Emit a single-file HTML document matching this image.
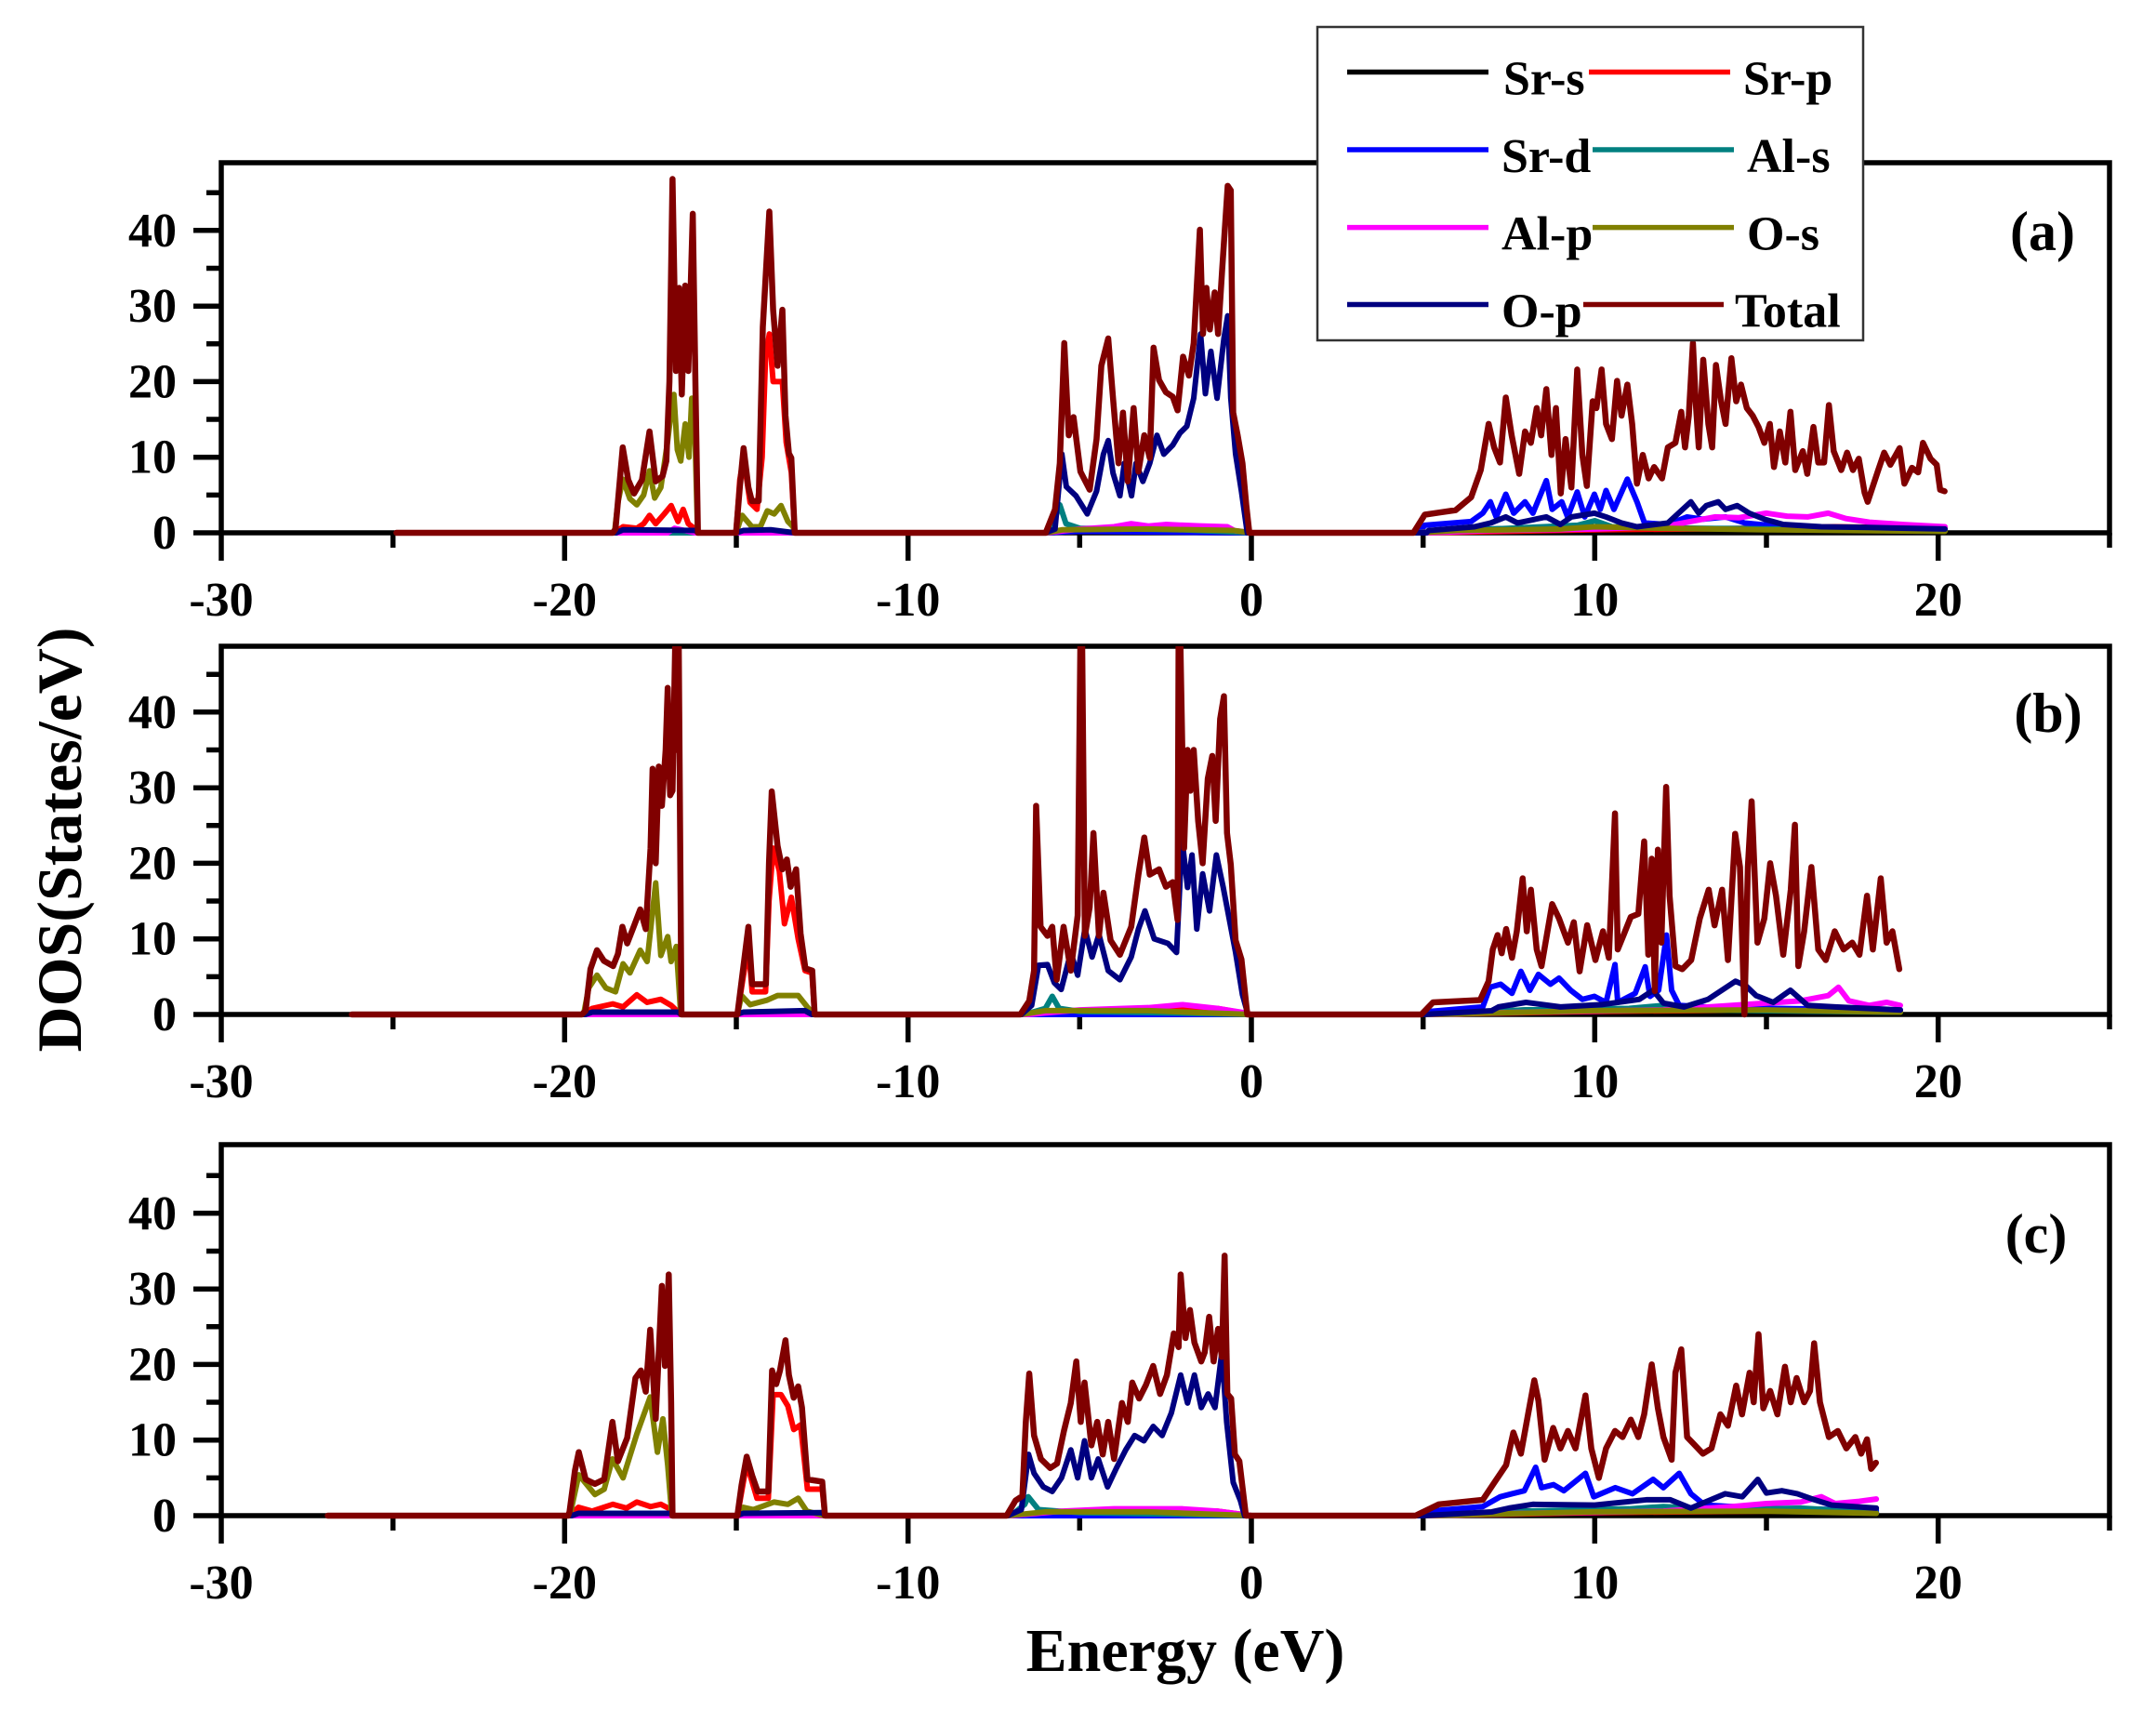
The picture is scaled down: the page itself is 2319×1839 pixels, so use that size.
<!DOCTYPE html>
<html><head><meta charset="utf-8"><style>
html,body{margin:0;padding:0;background:#fff;}
svg{display:block;}
text{font-family:"Liberation Serif","Times New Roman",serif;font-weight:bold;fill:#000;}
.ln{fill:none;vector-effect:non-scaling-stroke;stroke-linejoin:round;stroke-linecap:round;stroke-width:6;}
.tot{stroke:#800000;stroke-width:6.5;}
.k{stroke:#000;}.r{stroke:#ff0000;}.b{stroke:#0000ff;}.t{stroke:#008080;}.m{stroke:#ff00ff;}.o{stroke:#808000;}.n{stroke:#000080;}
.ax{stroke:#000;stroke-width:5.5;fill:none;}
</style></head><body>
<svg width="2319" height="1839" viewBox="0 0 2319 1839" xmlns="http://www.w3.org/2000/svg">
<defs>
<clipPath id="ca"><rect x="238" y="175" width="2031" height="402"/></clipPath>
<clipPath id="cb"><rect x="238" y="695" width="2031" height="400"/></clipPath>
<clipPath id="cc"><rect x="238" y="1231" width="2031" height="403"/></clipPath>
</defs>

<!-- ============ PANEL A ============ -->
<g class="ax">
<rect x="238" y="175" width="2031" height="398"/>
<path d="M208 573H238 M222 532.4H238 M208 491.7H238 M222 451H238 M208 410.4H238 M222 369.7H238 M208 329.2H238 M222 288.5H238 M208 247.8H238 M222 207.2H238"/>
<path d="M238 573V603 M422.7 573V589 M607.3 573V603 M792 573V589 M976.7 573V603 M1161.3 573V589 M1346 573V603 M1530.7 573V589 M1715.3 573V603 M1900 573V589 M2084.7 573V603 M2269 573V589"/>
</g>
<g font-size="52" text-anchor="end">
<text x="190" y="590">0</text><text x="190" y="508.7">10</text><text x="190" y="427.4">20</text><text x="190" y="346.2">30</text><text x="190" y="264.8">40</text>
</g>
<g font-size="52" text-anchor="middle">
<text x="238" y="662">-30</text><text x="607.3" y="662">-20</text><text x="976.7" y="662">-10</text><text x="1346" y="662">0</text><text x="1715.3" y="662">10</text><text x="2084.7" y="662">20</text>
</g>
<text x="2197" y="269" font-size="60" text-anchor="middle">(a)</text>

<g clip-path="url(#ca)"><g transform="translate(1346,573) scale(36.93,-8.13)">
<polyline class="ln k" points="-24.9,0 -18.5,0 -18.3,0.3 -16.2,0.2 -16.1,0 -6,0 -5,0.2 0,0 5,0 7,0.5 10,0.8 12,0.5 15,0.6 20.2,0.4"/>
<polyline class="ln r" points="-24.9,0 -18.55,0 -18.3,0.8 -17.9,0.6 -17.7,1.2 -17.53,2.3 -17.35,1.2 -17.1,2.5 -16.9,3.6 -16.7,1.5 -16.55,3.1 -16.4,1.2 -16.2,0.5 -16.12,0 -15.01,0 -14.9,7 -14.79,9.9 -14.6,4 -14.4,3.1 -14.25,10 -14.15,23.3 -14.04,26.3 -13.93,20 -13.8,20 -13.66,20 -13.55,12 -13.4,8 -13.3,0 -6,0 -4,0.4 -1,0.4 0,0 5,0 10,0.4 15,0.6 17,0.8 20.2,0.6"/>
<polyline class="ln b" points="-24.9,0 -6,0 -5,0.2 0,0 4.9,0 5.05,1 6.4,1.5 6.74,2.6 6.96,4.1 7.13,2.1 7.41,5.1 7.64,2.6 7.97,4.1 8.2,2.6 8.59,6.9 8.76,3.1 9.04,4.1 9.21,2.1 9.49,5.4 9.71,2.1 9.99,5.1 10.16,3.1 10.33,5.6 10.56,3.1 10.95,7.1 11.23,4.1 11.45,1.3 12.13,1.1 12.69,2.1 13.14,1.8 13.81,2.1 14.37,1.3 15.49,0.8 17,0.6 20.2,0.4"/>
<polyline class="ln t" points="-24.9,0 -6,0 -5.75,1.5 -5.58,3.7 -5.4,1.2 -5,0.6 -2,0.4 0,0 5,0 7,0.5 9.5,1.0 10,1.6 10.5,0.8 13,0.6 20.2,0.3"/>
<polyline class="ln m" points="-24.9,0 -17,0 -16.8,0.6 -16.2,0 -6,0 -5,0.5 -4,0.8 -3.5,1.2 -3,0.9 -2.5,1.1 -1.5,0.9 -0.7,0.8 -0.5,0.3 0,0 5,0 7,0.3 10,0.5 12,0.8 12.8,1.5 13.5,2.1 14.2,2 15,2.6 15.6,2.2 16.2,2.1 16.8,2.6 17.3,1.9 18,1.4 19,1.1 20.2,0.8"/>
<polyline class="ln o" points="-24.9,0 -18.55,0 -18.45,4 -18.31,7.1 -18.1,4.5 -17.9,3.7 -17.7,5 -17.53,8.2 -17.38,4.6 -17.2,6 -17.0,12.2 -16.9,16 -16.82,18.3 -16.72,11 -16.62,9.5 -16.49,14.4 -16.38,10 -16.3,17.8 -16.2,12 -16.13,0 -15.0,0 -14.9,1.5 -14.83,2.3 -14.55,0.8 -14.3,0.8 -14.1,2.9 -13.9,2.5 -13.7,3.6 -13.5,1.5 -13.35,0.8 -13.3,0 -6,0 -5.5,0.4 -3,0.5 -0.5,0.3 0,0 4.8,0 6,0.3 9,0.5 10,0.8 12,0.6 15,0.4 20.2,0.2"/>
<polyline class="ln n" points="-24.9,0 -18.5,0 -18.3,0.4 -16.2,0.3 -16.1,0 -15,0 -14.8,0.3 -14,0.4 -13.3,0 -6,0 -5.72,0.5 -5.52,10.4 -5.39,6.1 -5.11,4.9 -4.78,2.5 -4.51,5.5 -4.31,10.4 -4.17,12.2 -4.03,7.9 -3.83,4.9 -3.70,9.2 -3.49,4.9 -3.36,9.2 -3.16,6.8 -2.96,9.2 -2.75,12.9 -2.55,10.4 -2.29,11.6 -2.08,13.2 -1.88,14.1 -1.68,17.8 -1.48,26.3 -1.34,18.4 -1.18,24 -1,17.8 -0.8,25.7 -0.69,28.7 -0.6,17.8 -0.46,10.4 -0.29,5.5 -0.12,0 5.1,0 5.16,0.3 6.5,0.8 6.97,1.3 7.41,2.1 7.75,1.3 8.59,2.1 9.0,1.1 9.32,2.1 9.99,2.6 10.33,2.1 10.78,1.3 11.23,0.8 12.13,1.3 12.8,4.1 13.03,2.6 13.25,3.6 13.6,4.1 13.81,3.1 14.15,3.6 14.5,2.6 14.94,1.8 15.49,1.1 16.6,0.8 18,0.7 20.2,0.5"/>
<polyline class="ln tot" points="-24.9,0 -18.6,0 -18.52,0.5 -18.31,11.3 -18.15,7 -17.98,5.2 -17.75,7 -17.53,13.4 -17.35,6.8 -17.15,7.5 -17.04,9.5 -16.95,20 -16.86,46.8 -16.76,21.4 -16.67,32.4 -16.59,18.3 -16.49,32.7 -16.40,21.4 -16.27,42.2 -16.19,19 -16.12,0 -15.01,0 -14.9,6 -14.79,11.2 -14.65,6 -14.55,4.2 -14.35,4.2 -14.23,27.2 -14.04,42.5 -13.93,29.5 -13.80,22.1 -13.66,29.5 -13.57,15.5 -13.47,10.5 -13.40,9.9 -13.30,0 -5.99,0 -5.72,3.1 -5.58,9.2 -5.45,25.1 -5.32,12.9 -5.18,15.3 -4.98,8.1 -4.71,5.7 -4.51,12.4 -4.37,22.1 -4.17,25.7 -4.03,17.8 -3.87,9.2 -3.74,15.9 -3.60,6.8 -3.43,16.5 -3.29,8.1 -3.12,12.9 -2.96,9.9 -2.85,24.5 -2.69,20.2 -2.49,18.6 -2.29,18 -2.15,16.2 -1.99,23.3 -1.82,20.8 -1.68,25.1 -1.50,40.1 -1.41,26.3 -1.31,32.4 -1.21,26.9 -1.07,31.8 -0.97,26.3 -0.85,34.9 -0.69,45.9 -0.60,45.3 -0.53,15.9 -0.40,12.9 -0.26,9.2 -0.15,3.7 -0.06,0 4.72,0 5.05,2.4 5.5,2.7 5.95,3.0 6.4,4.7 6.68,8.3 6.91,14.4 7.07,11.3 7.24,9.3 7.41,17.9 7.58,12.9 7.80,7.8 7.97,13.4 8.14,11.9 8.31,16.5 8.44,12.9 8.59,19 8.74,10.3 8.87,16.5 9.01,5.2 9.15,12.4 9.32,6 9.49,21.6 9.64,10.3 9.77,6.2 9.94,17.4 10.05,16.5 10.2,21.6 10.33,14.4 10.5,12.4 10.65,20.1 10.78,15.5 10.95,19.6 11.09,14.4 11.23,6.5 11.4,10.3 11.57,7.2 11.73,8.7 11.96,7.2 12.13,11.3 12.35,11.9 12.52,16 12.63,11.3 12.74,15.5 12.86,25.1 12.94,17.4 13.03,11.3 13.16,22.9 13.31,14.4 13.42,11.3 13.53,22.2 13.68,17.4 13.81,14.4 13.98,23.1 14.12,17.4 14.26,19.6 14.43,16.5 14.6,15.5 14.77,14 14.94,11.9 15.1,14.4 15.22,8.7 15.39,13.4 15.55,9.3 15.7,16 15.84,8.3 16.06,10.8 16.19,7.8 16.37,14 16.51,9.3 16.68,9.3 16.82,16.9 16.96,10.8 17.18,8.3 17.35,10.6 17.52,8.3 17.69,9.8 17.86,5.3 17.95,4.1 18.25,8.2 18.43,10.6 18.61,9 18.88,11.2 19.02,6.5 19.24,8.6 19.42,8 19.56,11.9 19.78,9.8 19.96,9 20.06,5.7 20.19,5.5"/>
</g></g>

<!-- ============ PANEL B ============ -->
<g class="ax">
<rect x="238" y="695" width="2031" height="396"/>
<path d="M208 1091H238 M222 1050.4H238 M208 1009.7H238 M222 969H238 M208 928.4H238 M222 887.7H238 M208 847.2H238 M222 806.5H238 M208 765.8H238 M222 725.2H238"/>
<path d="M238 1091V1121 M422.7 1091V1107 M607.3 1091V1121 M792 1091V1107 M976.7 1091V1121 M1161.3 1091V1107 M1346 1091V1121 M1530.7 1091V1107 M1715.3 1091V1121 M1900 1091V1107 M2084.7 1091V1121 M2269 1091V1107"/>
</g>
<g font-size="52" text-anchor="end">
<text x="190" y="1108">0</text><text x="190" y="1026.7">10</text><text x="190" y="945.4">20</text><text x="190" y="864.2">30</text><text x="190" y="782.8">40</text>
</g>
<g font-size="52" text-anchor="middle">
<text x="238" y="1180">-30</text><text x="607.3" y="1180">-20</text><text x="976.7" y="1180">-10</text><text x="1346" y="1180">0</text><text x="1715.3" y="1180">10</text><text x="2084.7" y="1180">20</text>
</g>
<text x="2203" y="787" font-size="60" text-anchor="middle">(b)</text>

<g clip-path="url(#cb)"><g transform="translate(1346,1091) scale(36.93,-8.13)">
<polyline class="ln k" points="-26.2,0 -19.4,0 -19,0.2 -16.6,0 -6.7,0 -5,0.2 0,0 5,0 8,0.6 12,0.6 15,0.8 18.9,0.4"/>
<polyline class="ln r" points="-26.2,0 -19.45,0 -19.2,0.8 -18.6,1.4 -18.3,1.0 -17.9,2.6 -17.6,1.6 -17.2,2.0 -16.9,1.2 -16.62,0 -14.97,0 -14.8,5 -14.65,9 -14.54,3 -14.15,3 -14.05,15 -13.93,22 -13.75,19 -13.6,12 -13.4,15.5 -13.2,10 -13.0,5.8 -12.8,5.5 -12.72,0 -6.7,0 -3,0.4 -1,0.8 0,0 5,0 10,0.4 15,0.6 18.9,0.5"/>
<polyline class="ln b" points="-26.2,0 0,0 5.0,0 5.2,0.4 6.74,1.0 6.95,3.6 7.26,4.0 7.59,2.8 7.85,5.7 8.11,3.2 8.36,5.3 8.71,4.0 8.96,4.8 9.3,3.2 9.64,2.0 9.99,2.4 10.33,1.6 10.59,6.6 10.67,1.6 11.18,2.8 11.47,6.3 11.61,2.4 11.86,3.2 12.09,10.5 12.24,3.2 12.46,1.2 13.23,1.0 15,0.8 18.9,0.6"/>
<polyline class="ln t" points="-26.2,0 -6.6,0 -6,0.8 -5.8,2.4 -5.6,0.8 -5,0.4 0,0 5,0 8,0.6 11,0.8 12,1.2 13,0.6 18.9,0.3"/>
<polyline class="ln m" points="-26.2,0 -6.5,0 -5,0.6 -3,0.9 -2,1.3 -1,0.8 -0.3,0.3 0,0 5,0 8,0.3 12,0.6 14,1.2 15,1.5 16,1.8 16.8,2.5 17.1,3.6 17.4,1.8 18,1.2 18.5,1.6 18.9,1.2"/>
<polyline class="ln o" points="-26.2,0 -19.45,0 -19.3,3.5 -19.06,5.2 -18.8,3.5 -18.52,3 -18.3,6.7 -18.1,5.5 -17.8,8.5 -17.6,7 -17.35,17.4 -17.2,7.8 -17.0,10.3 -16.9,7 -16.75,9 -16.62,0 -14.97,0 -14.85,2.5 -14.6,1.3 -14.1,1.9 -13.8,2.5 -13.2,2.5 -12.9,0.8 -12.75,0 -6.7,0 -6,0.5 -3,0.5 0,0 5,0 10,0.5 15,0.6 18.9,0.3"/>
<polyline class="ln n" points="-26.2,0 -19.4,0 -19.2,0.3 -16.7,0.3 -16.6,0 -15,0 -14.8,0.3 -13,0.5 -12.8,0 -6.7,0 -6.4,1.2 -6.2,6.5 -5.94,6.6 -5.74,4.2 -5.54,3.3 -5.26,8.2 -5.06,5.2 -4.85,11.3 -4.64,7.6 -4.44,10.6 -4.17,5.8 -3.83,4.6 -3.5,7.6 -3.29,11.3 -3.1,13.7 -2.83,10 -2.43,9.4 -2.18,8.2 -2.02,23.2 -1.86,16.8 -1.73,21.1 -1.59,11.3 -1.42,18.6 -1.22,13.7 -1.02,21.1 -0.82,16.8 -0.69,13.7 -0.46,8.2 -0.26,2.6 -0.1,0 5,0 7,0.5 7.2,1.0 8.0,1.6 9.0,1.0 10.2,1.3 11.3,2.0 11.7,3.2 12.0,1.5 12.6,1.0 13.3,2.0 14.1,4.4 14.4,3.8 14.7,2.5 15.2,1.6 15.7,3.2 16.2,1.2 17.0,1.0 18.9,0.6"/>
<polyline class="ln tot" points="-26.2,0 -19.5,0 -19.39,0.5 -19.25,6 -19.06,8.5 -18.86,7.1 -18.59,6.4 -18.45,8 -18.32,11.6 -18.18,9.4 -18.0,11.5 -17.8,13.9 -17.64,11.3 -17.5,22 -17.44,32.5 -17.35,20 -17.26,32.8 -17.17,27.6 -17.06,35 -17.0,43.2 -16.93,29 -16.86,29.6 -16.78,49.5 -16.73,35 -16.68,49.5 -16.6,0 -14.97,0 -14.81,5.8 -14.65,11.6 -14.54,4 -14.14,4 -14.05,20 -13.97,29.5 -13.80,22.3 -13.66,19.2 -13.53,20.5 -13.42,16.9 -13.26,19.2 -13.13,10.7 -12.99,6.1 -12.79,5.8 -12.72,0 -6.73,0 -6.47,1.8 -6.33,5.8 -6.27,27.6 -6.14,11.6 -5.94,10.4 -5.80,11.6 -5.67,4.6 -5.47,11.6 -5.26,5.8 -5.06,13.1 -4.98,49.5 -4.93,49.5 -4.85,10.4 -4.71,14.2 -4.60,24 -4.44,10.4 -4.31,16.1 -4.10,9.8 -3.83,7.9 -3.5,11.6 -3.29,18.5 -3.12,23.4 -2.96,18.5 -2.69,19.2 -2.49,16.9 -2.29,17.5 -2.15,12.5 -2.12,49.5 -2.07,49.5 -1.96,22 -1.86,35 -1.78,29.6 -1.68,35 -1.55,25.6 -1.42,20 -1.27,31.2 -1.14,34.2 -1.04,25.6 -0.91,39.1 -0.80,42.1 -0.71,24 -0.60,19.8 -0.46,9.8 -0.29,7.3 -0.12,0 4.95,0 5.29,1.6 6.66,1.9 6.91,4.4 7.03,8.6 7.17,10.5 7.29,8.1 7.42,11.3 7.59,7.5 7.73,11 7.9,18 8.02,11 8.14,16.5 8.31,8.6 8.45,6.4 8.76,14.6 8.96,12.7 9.22,9.5 9.39,12.2 9.56,5.7 9.78,11.8 10.02,7.2 10.24,11 10.41,7.5 10.59,26.6 10.67,8.6 10.84,10.5 11.05,12.9 11.27,13.3 11.44,22.9 11.56,7.9 11.66,20.6 11.75,3.1 11.84,21.8 11.94,9.5 12.08,30.1 12.18,15.7 12.35,6.4 12.55,6 12.81,7.2 13.06,12.7 13.32,16.5 13.49,11.8 13.71,16.5 13.88,7.2 14.09,23.9 14.23,19.5 14.36,0 14.46,19.5 14.57,28.2 14.74,9.5 14.94,12.7 15.11,20 15.28,15.7 15.49,7.9 15.71,16.5 15.83,25.1 15.93,6.4 16.1,11 16.31,19.5 16.51,8.6 16.73,7.2 16.99,11 17.25,8.6 17.5,9.5 17.71,7.9 17.93,15.7 18.1,8.6 18.33,18 18.5,9.5 18.67,11 18.87,6"/>
</g></g>

<!-- ============ PANEL C ============ -->
<g class="ax">
<rect x="238" y="1231" width="2031" height="399"/>
<path d="M208 1630H238 M222 1589.4H238 M208 1548.7H238 M222 1508H238 M208 1467.4H238 M222 1426.7H238 M208 1386.2H238 M222 1345.5H238 M208 1304.8H238 M222 1264.2H238"/>
<path d="M238 1630V1660 M422.7 1630V1646 M607.3 1630V1660 M792 1630V1646 M976.7 1630V1660 M1161.3 1630V1646 M1346 1630V1660 M1530.7 1630V1646 M1715.3 1630V1660 M1900 1630V1646 M2084.7 1630V1660 M2269 1630V1646"/>
</g>
<g font-size="52" text-anchor="end">
<text x="190" y="1647">0</text><text x="190" y="1565.7">10</text><text x="190" y="1484.4">20</text><text x="190" y="1403.2">30</text><text x="190" y="1321.8">40</text>
</g>
<g font-size="52" text-anchor="middle">
<text x="238" y="1719">-30</text><text x="607.3" y="1719">-20</text><text x="976.7" y="1719">-10</text><text x="1346" y="1719">0</text><text x="1715.3" y="1719">10</text><text x="2084.7" y="1719">20</text>
</g>
<text x="2190" y="1347" font-size="60" text-anchor="middle">(c)</text>

<g clip-path="url(#cc)"><g transform="translate(1346,1630) scale(36.93,-8.13)">
<polyline class="ln k" points="-26.9,0 -19.8,0 -19.5,0.2 -16.9,0 -7,0 -5,0.2 0,0 5,0 8,0.6 12,0.6 15,0.8 18.2,0.4"/>
<polyline class="ln r" points="-26.9,0 -19.85,0 -19.6,1.1 -19.2,0.6 -18.6,1.5 -18.2,1.0 -17.9,1.8 -17.5,1.2 -17.2,1.5 -16.9,0.8 -16.86,0 -14.97,0 -14.7,6.9 -14.4,2.3 -14.07,2.3 -13.93,16 -13.7,16 -13.5,14.5 -13.33,11.4 -13.13,12 -12.93,3.5 -12.5,3.5 -12.42,0 -7.1,0 -3,0.4 -1,0.6 0,0 5,0 10,0.4 15,0.6 18.2,0.5"/>
<polyline class="ln b" points="-26.9,0 0,0 4.9,0 5.2,0.6 6.74,1.2 7.25,2.5 7.59,2.9 7.95,3.3 8.28,6.4 8.45,3.7 8.8,4.1 9.1,3.3 9.73,5.6 9.97,2.5 10.6,3.7 11.1,2.9 11.7,4.8 12.0,3.7 12.46,5.6 12.8,2.9 13.2,1.4 14.8,1.0 18.2,0.7"/>
<polyline class="ln t" points="-26.9,0 -7,0 -6.6,1.5 -6.5,2.5 -6.2,0.8 -5,0.4 0,0 5,0 8,0.6 11,0.9 12,1.2 14,0.8 16,1.0 18.2,0.4"/>
<polyline class="ln m" points="-26.9,0 -7,0 -5.5,0.6 -4,0.9 -2,0.9 -1,0.6 0,0 5,0 8,0.3 12,0.6 14,1.2 15,1.6 16,1.8 16.6,2.5 17,1.6 17.7,1.9 18.2,2.2"/>
<polyline class="ln o" points="-26.9,0 -19.85,0 -19.59,5.4 -19.12,2.8 -18.85,3.5 -18.61,7.5 -18.3,5 -17.9,10.8 -17.51,15.7 -17.3,8.4 -17.14,12.8 -17.0,6.7 -16.88,0 -14.97,0 -14.8,1.1 -14.5,0.8 -13.9,1.8 -13.5,1.5 -13.2,2.3 -12.95,0.6 -12.45,0 -7.1,0 -6,0.5 -3,0.5 0,0 5,0 10,0.5 15,0.6 18.2,0.3"/>
<polyline class="ln n" points="-26.9,0 -19.8,0 -19.6,0.3 -16.9,0.3 -16.86,0 -15,0 -14.8,0.3 -12.5,0.4 -12.42,0 -7.1,0 -6.7,0.8 -6.49,8.1 -6.33,5.6 -6.06,3.8 -5.8,3.2 -5.53,5 -5.26,8.7 -5.06,5 -4.86,9.9 -4.66,5 -4.46,7.5 -4.19,3.8 -3.93,6.3 -3.66,8.7 -3.4,10.6 -3.13,9.9 -2.86,11.8 -2.6,10.6 -2.33,13.6 -2.06,18.6 -1.86,14.9 -1.66,18.6 -1.46,14.3 -1.26,16.1 -1.06,14.3 -0.86,21.6 -0.72,12.4 -0.53,4.4 -0.32,2 -0.2,0 5,0 7,0.5 7.5,1.0 8.2,1.5 10,1.4 11.5,2.1 12.2,2.1 12.8,1.0 13.8,2.9 14.3,2.5 14.75,4.8 15.0,3.0 15.45,3.3 15.9,2.9 16.4,2.1 16.9,1.4 18.2,1.0"/>
<polyline class="ln tot" points="-26.9,0 -19.9,0 -19.86,0.5 -19.7,6 -19.59,8.4 -19.39,4.8 -19.12,4.2 -18.85,4.8 -18.61,12.4 -18.45,7.2 -18.18,10.3 -17.94,18.2 -17.78,19.2 -17.64,16.4 -17.51,24.6 -17.35,12.8 -17.17,30.4 -17.08,19.8 -16.97,31.9 -16.9,15 -16.86,0 -14.97,0 -14.85,4 -14.7,7.8 -14.54,5.3 -14.38,3.2 -14.07,3.2 -13.96,19.2 -13.84,17.4 -13.73,19.2 -13.57,23.2 -13.47,18.6 -13.33,15.6 -13.2,17.1 -13.09,14.3 -12.93,4.8 -12.5,4.5 -12.42,0 -7.13,0 -6.87,2 -6.67,2.6 -6.57,12.4 -6.47,18.8 -6.33,10.6 -6.13,7.5 -5.86,6.3 -5.66,6.9 -5.46,11.2 -5.26,14.9 -5.1,20.4 -4.97,12.4 -4.86,17.6 -4.66,9.3 -4.49,12.4 -4.33,8.1 -4.17,12.4 -4.0,7.5 -3.77,14.9 -3.6,12.4 -3.47,17.6 -3.27,15.5 -3.07,17.3 -2.86,19.8 -2.66,16.1 -2.46,18.6 -2.26,24.1 -2.12,22.3 -2.06,31.9 -1.92,23.5 -1.79,27.2 -1.66,22.9 -1.46,20.4 -1.36,21.6 -1.23,26.3 -1.1,20.4 -0.97,24.7 -0.86,21 -0.78,34.4 -0.7,16.1 -0.59,15.5 -0.48,8.1 -0.35,7.2 -0.16,0 4.78,0 5.46,1.5 6.74,2.1 7.08,4.4 7.42,6.7 7.63,11 7.85,8.2 8.07,13.7 8.24,17.9 8.36,15.2 8.54,7.4 8.79,11.6 9.0,8.9 9.22,11.2 9.44,8.9 9.73,15.9 9.9,8.9 10.12,5 10.33,8.9 10.59,11.2 10.81,10.4 11.05,12.7 11.27,10.4 11.44,13.4 11.66,20 11.84,14.2 12.0,10.4 12.24,7.4 12.35,18.9 12.52,22 12.69,10.4 12.86,9.6 13.15,8.2 13.4,8.9 13.66,13.4 13.88,11.9 14.12,17.2 14.29,13.4 14.51,18.9 14.63,15 14.77,24 14.91,14.2 15.11,16.5 15.32,13.4 15.54,19.7 15.71,15 15.88,18.2 16.1,15 16.27,16.5 16.39,22.8 16.56,15 16.82,10.4 17.08,11.2 17.33,8.9 17.59,10.4 17.76,8.2 17.93,10.1 18.05,6.2 18.19,7"/>
</g></g>

<!-- ============ AXIS TITLES ============ -->
<text transform="translate(87,903) rotate(-90)" font-size="68" text-anchor="middle">DOS(States/eV)</text>
<text x="1275" y="1797" font-size="66" text-anchor="middle">Energy (eV)</text>

<!-- ============ LEGEND ============ -->
<rect x="1417" y="29" width="587" height="337" fill="#fff" stroke="#333" stroke-width="2.5"/>
<g stroke-width="5.5" fill="none">
<line x1="1449" y1="77.5" x2="1601" y2="77.5" stroke="#000"/>
<line x1="1709" y1="77.5" x2="1861" y2="77.5" stroke="#ff0000"/>
<line x1="1449" y1="161" x2="1601" y2="161" stroke="#0000ff"/>
<line x1="1713" y1="161" x2="1865" y2="161" stroke="#008080"/>
<line x1="1449" y1="244.6" x2="1601" y2="244.6" stroke="#ff00ff"/>
<line x1="1713" y1="244.6" x2="1865" y2="244.6" stroke="#808000"/>
<line x1="1449" y1="327.5" x2="1601" y2="327.5" stroke="#000080"/>
<line x1="1703" y1="327.5" x2="1854" y2="327.5" stroke="#800000"/>
</g>
<g font-size="52">
<text x="1617" y="101.5">Sr-s</text><text x="1875" y="101.5">Sr-p</text>
<text x="1615" y="185">Sr-d</text><text x="1879" y="185">Al-s</text>
<text x="1615" y="268.6">Al-p</text><text x="1879" y="268.6">O-s</text>
<text x="1615" y="351.5">O-p</text><text x="1866" y="351.5">Total</text>
</g>
</svg>
</body></html>
